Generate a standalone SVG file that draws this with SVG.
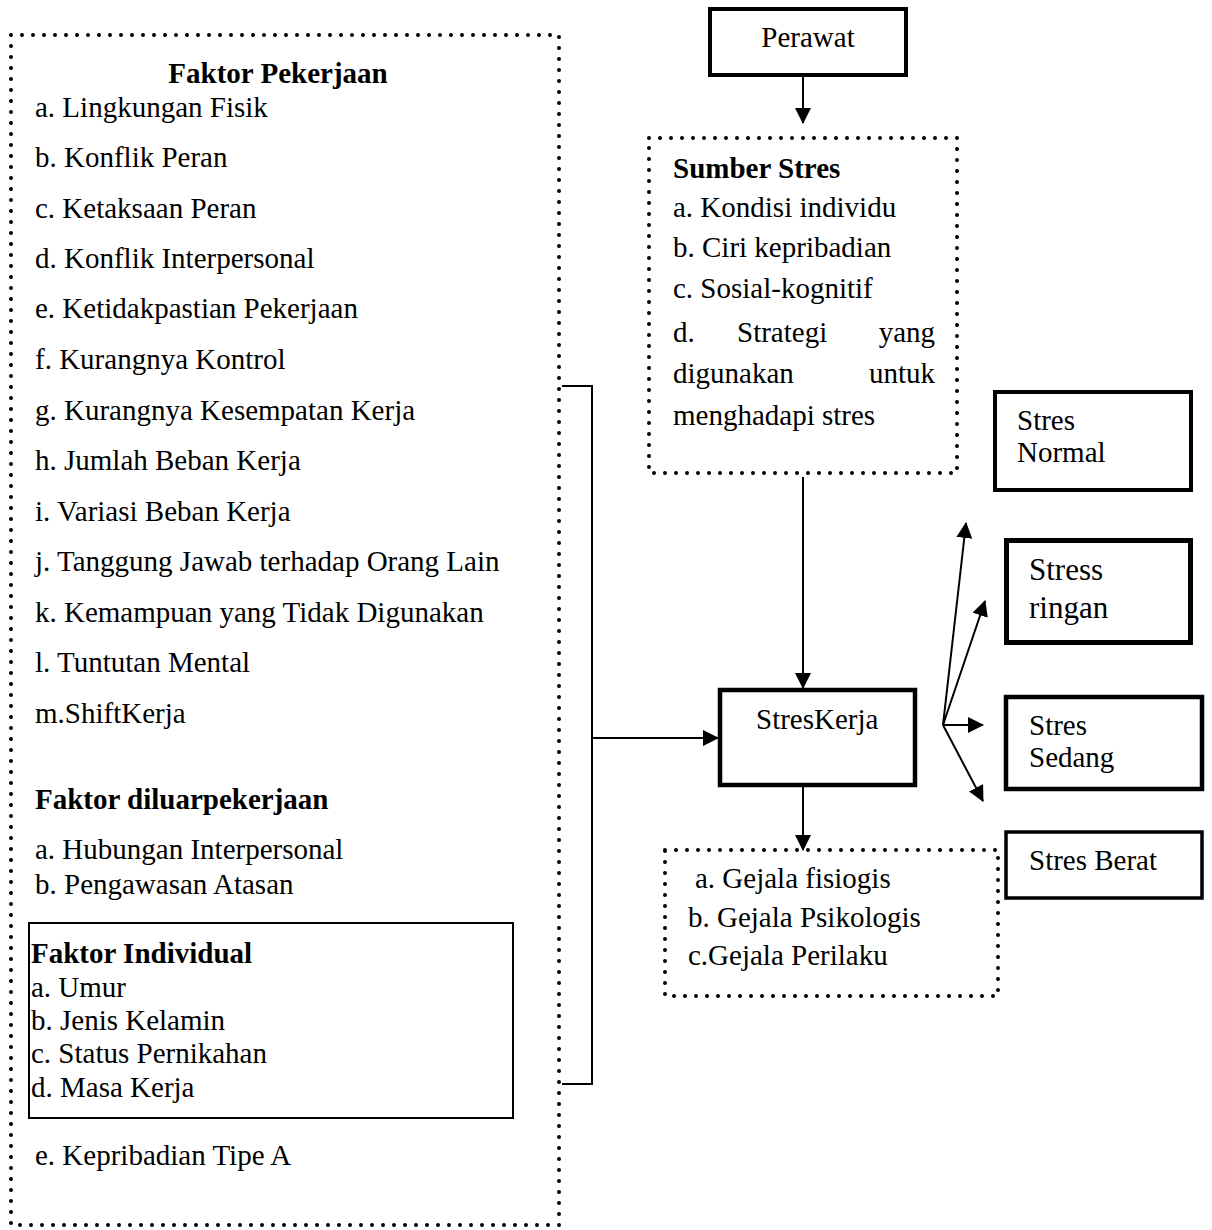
<svg xmlns="http://www.w3.org/2000/svg" width="1212" height="1230" viewBox="0 0 1212 1230">
<style>
text{font-family:"Liberation Serif","Times New Roman",serif;font-size:29px;fill:#000}
.b{font-weight:bold}
.dot{fill:none;stroke:#000;stroke-width:4;stroke-dasharray:0 11;stroke-linecap:round}
.box{fill:#fff;stroke:#000}
.ln{fill:none;stroke:#000;stroke-width:2}
</style>
<defs>
<marker id="ah" markerUnits="userSpaceOnUse" markerWidth="16" markerHeight="16" refX="15" refY="8" orient="auto">
<path d="M0,0 L16,8 L0,16 z" fill="#000"/>
</marker>
</defs>
<rect width="1212" height="1230" fill="#fff"/>

<g id="faktor-pekerjaan">
<rect class="dot" x="11" y="35" width="548" height="1190"/>
<text class="b" x="278" y="83" text-anchor="middle">Faktor Pekerjaan</text>
<text x="35" y="117">a. Lingkungan Fisik</text>
<text x="35" y="167">b. Konflik Peran</text>
<text x="35" y="218">c. Ketaksaan Peran</text>
<text x="35" y="268">d. Konflik Interpersonal</text>
<text x="35" y="318">e. Ketidakpastian Pekerjaan</text>
<text x="35" y="369">f. Kurangnya Kontrol</text>
<text x="35" y="420">g. Kurangnya Kesempatan Kerja</text>
<text x="35" y="470">h. Jumlah Beban Kerja</text>
<text x="35" y="521">i. Variasi Beban Kerja</text>
<text x="35" y="571">j. Tanggung Jawab terhadap Orang Lain</text>
<text x="35" y="622">k. Kemampuan yang Tidak Digunakan</text>
<text x="35" y="672">l. Tuntutan Mental</text>
<text x="35" y="723">m.ShiftKerja</text>
<text class="b" x="35" y="809">Faktor diluarpekerjaan</text>
<text x="35" y="859">a. Hubungan Interpersonal</text>
<text x="35" y="894">b. Pengawasan Atasan</text>
<text x="35" y="1165">e. Kepribadian Tipe A</text>
</g>

<g id="faktor-individual">
<rect class="box" x="29" y="923" width="484" height="195" stroke-width="2"/>
<text class="b" x="31" y="963">Faktor Individual</text>
<text x="31" y="997">a. Umur</text>
<text x="31" y="1030">b. Jenis Kelamin</text>
<text x="31" y="1063">c. Status Pernikahan</text>
<text x="31" y="1097">d. Masa Kerja</text>
</g>

<g id="perawat">
<rect class="box" x="710" y="9" width="196" height="66" stroke-width="4"/>
<text x="808" y="47" text-anchor="middle">Perawat</text>
</g>

<g id="sumber-stres">
<rect class="dot" x="649" y="138" width="308" height="335"/>
<text class="b" x="673" y="178">Sumber Stres</text>
<text x="673" y="217">a. Kondisi individu</text>
<text x="673" y="257">b. Ciri kepribadian</text>
<text x="673" y="298">c. Sosial-kognitif</text>
<text y="342"><tspan x="673">d.</tspan><tspan x="737">Strategi</tspan><tspan x="935" text-anchor="end">yang</tspan></text>
<text y="383"><tspan x="673">digunakan</tspan><tspan x="935" text-anchor="end">untuk</tspan></text>
<text x="673" y="425">menghadapi stres</text>
</g>

<g id="stres-kerja">
<rect class="box" x="720" y="690" width="195" height="95" stroke-width="4.5"/>
<text x="756" y="729">StresKerja</text>
</g>

<g id="gejala">
<rect class="dot" x="665" y="850" width="333" height="146"/>
<text x="695" y="888">a. Gejala fisiogis</text>
<text x="688" y="927">b. Gejala Psikologis</text>
<text x="688" y="965">c.Gejala Perilaku</text>
</g>

<g id="stres-normal">
<rect class="box" x="995" y="392" width="196" height="98" stroke-width="4"/>
<text x="1017" y="430">Stres</text>
<text x="1017" y="462">Normal</text>
</g>

<g id="stress-ringan">
<rect class="box" x="1006.5" y="540.5" width="184" height="102" stroke-width="5"/>
<text x="1029" y="580" style="font-size:31px">Stress</text>
<text x="1029" y="618" style="font-size:31px">ringan</text>
</g>

<g id="stres-sedang">
<rect class="box" x="1006" y="697" width="196" height="92" stroke-width="4.5"/>
<text x="1029" y="735">Stres</text>
<text x="1029" y="767">Sedang</text>
</g>

<g id="stres-berat">
<rect class="box" x="1006" y="832" width="196" height="66" stroke-width="3.5"/>
<text x="1029" y="870">Stres Berat</text>
</g>

<g id="connectors">
<path class="ln" d="M803 77 V123" marker-end="url(#ah)"/>
<path class="ln" d="M803 477 V688" marker-end="url(#ah)"/>
<path class="ln" d="M562 386 H592 V1084 H562"/>
<path class="ln" d="M592 738 H718" marker-end="url(#ah)"/>
<path class="ln" d="M803 787 V850" marker-end="url(#ah)"/>
<path class="ln" d="M943 725 L966 523" marker-end="url(#ah)"/>
<path class="ln" d="M943 725 L985 601" marker-end="url(#ah)"/>
<path class="ln" d="M943 725 H983" marker-end="url(#ah)"/>
<path class="ln" d="M943 725 L983 801" marker-end="url(#ah)"/>
</g>
</svg>
